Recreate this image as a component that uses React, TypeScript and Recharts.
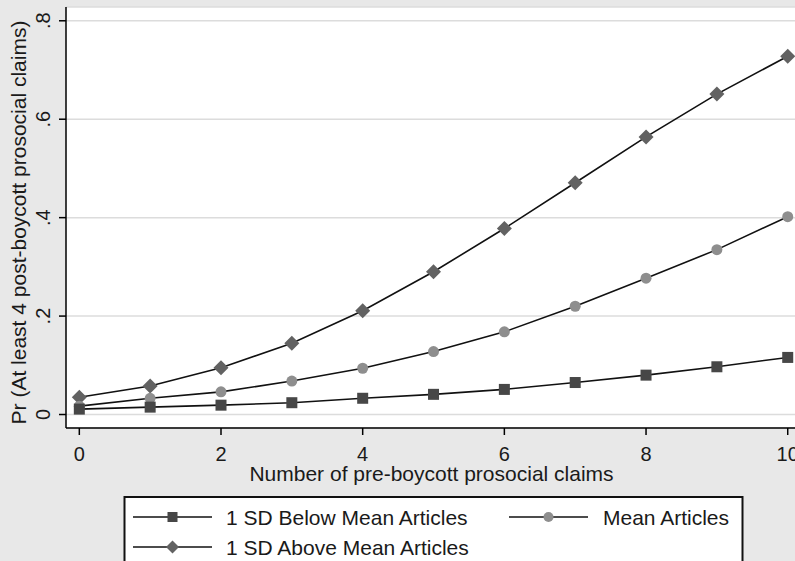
import React from 'react';
import { LineChart, Line, XAxis, YAxis, CartesianGrid, Label } from 'recharts';

const claims = [0, 1, 2, 3, 4, 5, 6, 7, 8, 9, 10];
const belowMean = [0.011, 0.015, 0.019, 0.024, 0.033, 0.041, 0.051, 0.065, 0.08, 0.097, 0.116];
const meanArticles = [0.017, 0.033, 0.046, 0.068, 0.094, 0.128, 0.168, 0.22, 0.277, 0.335, 0.402];
const aboveMean = [0.035, 0.058, 0.095, 0.145, 0.211, 0.29, 0.378, 0.471, 0.564, 0.651, 0.728];

const xTicks = [0, 2, 4, 6, 8, 10];
const yTicks = [0, 0.2, 0.4, 0.6, 0.8];

const data = claims.map((c, i) => ({
  claims: c,
  below: belowMean[i],
  mean: meanArticles[i],
  above: aboveMean[i],
}));

const FONT = '"Liberation Sans", Arial, Helvetica, sans-serif';
const SQUARE_FILL = '#474747';
const CIRCLE_FILL = '#8e8e8e';
const DIAMOND_FILL = '#626262';

const Square = ({ cx, cy, s = 11 }: any) => (
  <rect x={cx - s / 2} y={cy - s / 2} width={s} height={s} fill={SQUARE_FILL} />
);
const Circle = ({ cx, cy, r = 5.5 }: any) => <circle cx={cx} cy={cy} r={r} fill={CIRCLE_FILL} />;
const Diamond = ({ cx, cy, h = 7.5 }: any) => (
  <polygon
    points={`${cx},${cy - h} ${cx + h},${cy} ${cx},${cy + h} ${cx - h},${cy}`}
    fill={DIAMOND_FILL}
  />
);

const fmt = (v: number) => (v === 0 ? '0' : String(v).replace(/^0/, ''));

const YTick = (props: any) => {
  const { y, payload } = props;
  return (
    <text
      x={50}
      y={y}
      transform={`rotate(-90, 50, ${y})`}
      textAnchor="middle"
      fontSize={20}
      fill="#1a1a1a"
    >
      {fmt(payload.value)}
    </text>
  );
};

const App = () => {
  return (
    <div
      style={{
        position: 'absolute',
        left: 0,
        top: 0,
        width: 795,
        height: 561,
        overflow: 'hidden',
        background: '#e8e8e8',
        fontFamily: FONT,
      }}
    >
      <LineChart width={800} height={561} data={data} margin={{ top: 7, right: 3, left: 0, bottom: 0 }}>
        <CartesianGrid vertical={false} stroke="#dcdcdc" strokeWidth={1.5} fill="#ffffff" />
        <XAxis
          dataKey="claims"
          type="number"
          domain={[-0.188, 10.131]}
          allowDataOverflow
          ticks={xTicks}
          height={133}
          tickSize={7}
          tickMargin={12}
          axisLine={{ stroke: '#000', strokeWidth: 1.5 }}
          tickLine={{ stroke: '#000', strokeWidth: 1.5 }}
          tick={{ fontSize: 20, fill: '#1a1a1a' }}
        >
          <Label
            content={(p: any) => (
              <text
                x={p.viewBox.x + p.viewBox.width / 2}
                y={481}
                textAnchor="middle"
                fontSize={21}
                fill="#1a1a1a"
              >
                Number of pre-boycott prosocial claims
              </text>
            )}
          />
        </XAxis>
        <YAxis
          type="number"
          domain={[-0.0274, 0.828]}
          allowDataOverflow
          ticks={yTicks}
          width={66}
          tickSize={7}
          axisLine={{ stroke: '#000', strokeWidth: 1.5 }}
          tickLine={{ stroke: '#000', strokeWidth: 1.5 }}
          tick={<YTick />}
        >
          <Label
            content={() => (
              <text
                x={26}
                y={222.5}
                transform="rotate(-90, 26, 222.5)"
                textAnchor="middle"
                fontSize={21}
                fill="#1a1a1a"
              >
                Pr (At least 4 post-boycott prosocial claims)
              </text>
            )}
          />
        </YAxis>
        <Line
          dataKey="above"
          type="linear"
          stroke="#111"
          strokeWidth={1.6}
          isAnimationActive={false}
          activeDot={false}
          dot={(p: any) => <Diamond key={`d${p.index}`} cx={p.cx} cy={p.cy} />}
        />
        <Line
          dataKey="mean"
          type="linear"
          stroke="#111"
          strokeWidth={1.6}
          isAnimationActive={false}
          activeDot={false}
          dot={(p: any) => <Circle key={`c${p.index}`} cx={p.cx} cy={p.cy} />}
        />
        <Line
          dataKey="below"
          type="linear"
          stroke="#111"
          strokeWidth={1.6}
          isAnimationActive={false}
          activeDot={false}
          dot={(p: any) => <Square key={`s${p.index}`} cx={p.cx} cy={p.cy} />}
        />
      </LineChart>
      <svg
        width={795}
        height={561}
        style={{ position: 'absolute', left: 0, top: 0, pointerEvents: 'none' }}
      >
        <rect x={124.5} y={497} width={618} height={80} fill="#ffffff" stroke="#111" strokeWidth={2} />
        <line x1={133} x2={212} y1={517} y2={517} stroke="#111" strokeWidth={1.6} />
        <Square cx={172.5} cy={517} s={10} />
        <text x={226} y={524.5} fontSize={21} fill="#1a1a1a">1 SD Below Mean Articles</text>
        <line x1={509} x2={588} y1={517} y2={517} stroke="#111" strokeWidth={1.6} />
        <Circle cx={548.5} cy={517} r={5} />
        <text x={603} y={524.5} fontSize={21} fill="#1a1a1a">Mean Articles</text>
        <line x1={133} x2={212} y1={547} y2={547} stroke="#111" strokeWidth={1.6} />
        <Diamond cx={172.5} cy={547} h={6.5} />
        <text x={226} y={554.5} fontSize={21} fill="#1a1a1a">1 SD Above Mean Articles</text>
      </svg>
    </div>
  );
};

export default App;
